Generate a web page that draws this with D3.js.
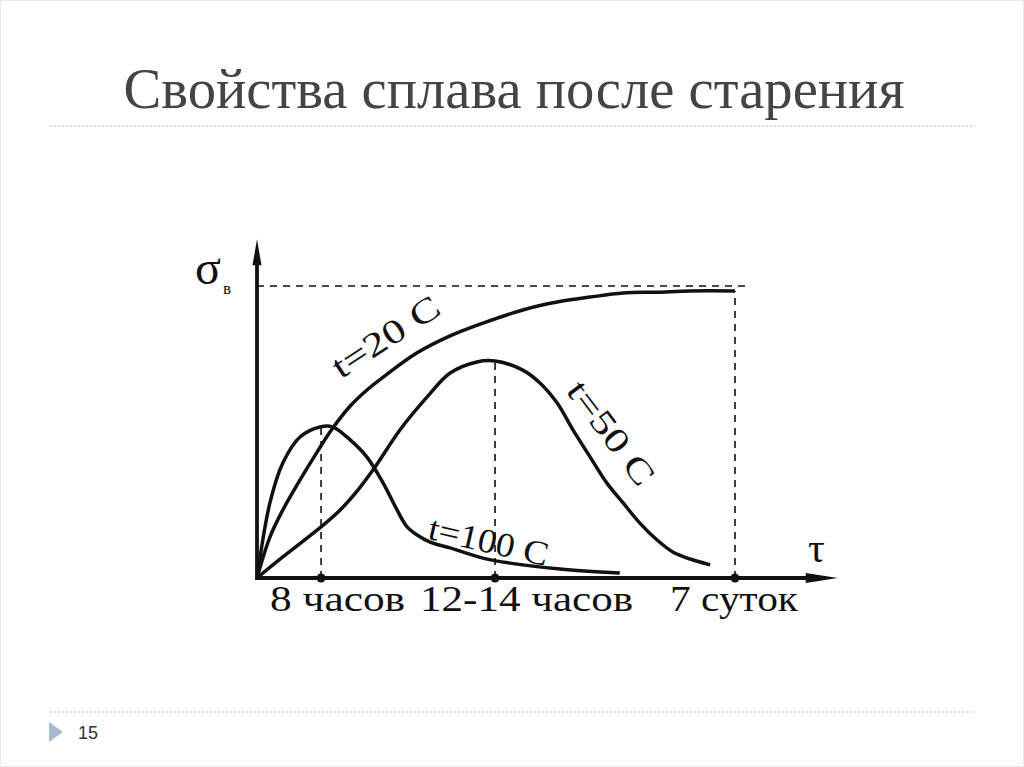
<!DOCTYPE html>
<html>
<head>
<meta charset="utf-8">
<script src="https://cdn.jsdelivr.net/npm/d3@7"></script>
<style>
  body { margin: 0; background: #fff; }
  svg { display: block; }
</style>
</head>
<body>
<script>
// Свойства сплава после старения
const width = 1024;
const height = 767;

// x in relative time units (7 суток = 100), y in relative strength (max = 100)
const t20x  = [0, 2.7, 5.4, 9.0, 12.6, 15.7, 19.5, 23.0, 26.4, 33.5, 40.4, 47.3, 55.6, 62.8, 69.7, 76.6, 83.7, 90.6, 100];
const t20y  = [0, 14.0, 23.3, 33.6, 43.2, 51.0, 58.9, 64.4, 68.8, 77.1, 82.9, 87.3, 91.8, 94.5, 96.2, 97.6, 97.9, 98.3, 98.3];

const t50x  = [0, 5.4, 13.4, 17.4, 21.1, 24.7, 29.9, 35.6, 40.4, 46.0, 49.8, 55.6, 59.2, 62.8, 66.1, 69.7, 73.2, 76.6, 80.1, 83.7, 87.0, 90.6, 94.8];
const t50y  = [0, 7.2, 17.5, 23.3, 30.1, 38.0, 50.7, 62.0, 70.2, 74.0, 74.3, 71.2, 66.8, 59.9, 50.7, 41.4, 32.5, 25.7, 18.8, 13.0, 8.9, 6.5, 4.5];

const t100x = [0, 2.7, 5.4, 9.0, 13.4, 15.9, 19.5, 23.0, 26.4, 29.3, 31.4, 33.5, 36.2, 40.4, 47.3, 52.9, 63.4, 75.9];
const t100y = [0, 25.7, 39.4, 48.3, 51.8, 51.7, 47.3, 41.4, 32.5, 23.3, 17.5, 14.7, 12.3, 10.3, 6.8, 5.1, 3.1, 1.7];

const curveNames = ['t=20 C', 't=50 C', 't=100 C'];

const tickValues = [13.4, 49.8, 100];
const tickLabels = ['8 часов', '12-14 часов', '7 суток'];
const tickPeaks  = [51.7, 74.3, 98.3];   // where each dashed guide stops
const sigmaMax = 100;

const serif = '"Liberation Serif", "Times New Roman", serif';

const svg = d3.select('body').append('svg')
  .attr('width', width)
  .attr('height', height)
  .attr('viewBox', [0, 0, width, height]);

// slide frame
svg.append('rect')
  .attr('x', 0.5).attr('y', 0.5)
  .attr('width', width - 1).attr('height', height - 1)
  .attr('fill', '#fff').attr('stroke', '#ececec');

// title
svg.append('text')
  .attr('x', 514).attr('y', 108)
  .attr('text-anchor', 'middle')
  .attr('font-family', serif)
  .attr('font-size', 56)
  .attr('fill', '#444446')
  .attr('textLength', 781)
  .attr('lengthAdjust', 'spacingAndGlyphs')
  .text('Свойства сплава после старения');

// dotted rules
[126, 712].forEach(yy => {
  svg.append('line')
    .attr('x1', 50).attr('x2', 975)
    .attr('y1', yy).attr('y2', yy)
    .attr('stroke', '#b9bec4')
    .attr('stroke-width', 1)
    .attr('stroke-dasharray', '2,2');
});

// footer
svg.append('path')
  .attr('d', 'M49,722 L63,732 L49,742 Z')
  .attr('fill', '#a9b9cc');
svg.append('text')
  .attr('x', 78).attr('y', 739)
  .attr('font-family', '"Liberation Sans", Arial, sans-serif')
  .attr('font-size', 18)
  .attr('fill', '#333')
  .text('15');

// chart
const x = d3.scaleLinear().domain([0, 100]).range([257, 735]);
const y = d3.scaleLinear().domain([0, 100]).range([578, 286]);
const xEnd = 121.5;
const yEnd = 116;

const g = svg.append('g');

// dashed guides
g.append('line')
  .attr('x1', x(0)).attr('x2', x(103))
  .attr('y1', y(sigmaMax)).attr('y2', y(sigmaMax))
  .attr('stroke', '#111').attr('stroke-width', 1.6)
  .attr('stroke-dasharray', '7,6');

g.selectAll('line.guide')
  .data(tickValues)
  .join('line')
  .attr('class', 'guide')
  .attr('x1', d => x(d)).attr('x2', d => x(d))
  .attr('y1', y(0)).attr('y2', (d, i) => y(tickPeaks[i]))
  .attr('stroke', '#111').attr('stroke-width', 1.6)
  .attr('stroke-dasharray', '7,6');

// curves
const line = d3.line()
  .x(d => x(d[0]))
  .y(d => y(d[1]))
  .curve(d3.curveCatmullRom.alpha(0.5));

const series = [
  d3.zip(t20x, t20y),
  d3.zip(t50x, t50y),
  d3.zip(t100x, t100y)
];

g.selectAll('path.curve')
  .data(series)
  .join('path')
  .attr('class', 'curve')
  .attr('d', line)
  .attr('fill', 'none')
  .attr('stroke', '#111')
  .attr('stroke-width', 3.5)
  .attr('stroke-linejoin', 'round');

// axes with arrows
g.append('line')
  .attr('x1', x(0)).attr('x2', x(xEnd) - 20)
  .attr('y1', y(0)).attr('y2', y(0))
  .attr('stroke', '#111').attr('stroke-width', 3.8);
g.append('path')
  .attr('d', `M${x(xEnd)},${y(0)} L${x(xEnd) - 32},${y(0) - 5} L${x(xEnd) - 32},${y(0) + 5} Z`)
  .attr('fill', '#111');

g.append('line')
  .attr('x1', x(0)).attr('x2', x(0))
  .attr('y1', y(0) + 2).attr('y2', y(yEnd) + 16)
  .attr('stroke', '#111').attr('stroke-width', 3.8);
g.append('path')
  .attr('d', `M${x(0)},${y(yEnd)} L${x(0) - 4.5},${y(yEnd) + 26} L${x(0) + 4.5},${y(yEnd) + 26} Z`)
  .attr('fill', '#111');

// tick dots
g.selectAll('circle.tick')
  .data(tickValues)
  .join('circle')
  .attr('class', 'tick')
  .attr('cx', d => x(d)).attr('cy', y(0))
  .attr('r', 4.5)
  .attr('fill', '#111');

// tick labels (left edge offset from each tick)
const labelDx = [-51, -75, -65];
const labelW  = [135, 213, 128];
g.selectAll('text.tlabel')
  .data(tickLabels)
  .join('text')
  .attr('class', 'tlabel')
  .attr('x', (d, i) => x(tickValues[i]) + labelDx[i])
  .attr('y', 611)
  .attr('font-family', serif)
  .attr('font-size', 36)
  .attr('fill', '#111')
  .attr('textLength', (d, i) => labelW[i])
  .attr('lengthAdjust', 'spacingAndGlyphs')
  .text(d => d);

// axis names
const sig = g.append('text')
  .attr('x', 195).attr('y', 284)
  .attr('font-family', serif)
  .attr('font-size', 48)
  .attr('fill', '#111');
sig.append('tspan').text('σ');
sig.append('tspan')
  .attr('font-size', 17)
  .attr('dx', 2).attr('dy', 10)
  .text('в');

g.append('text')
  .attr('x', 808).attr('y', 562)
  .attr('font-family', serif)
  .attr('font-size', 42)
  .attr('fill', '#111')
  .text('τ');

// curve labels
const labelPos = [[17.5, 68, -33], [64.5, 64, 53], [35.5, 13.5, 13]];
g.selectAll('text.clabel')
  .data(curveNames)
  .join('text')
  .attr('class', 'clabel')
  .attr('transform', (d, i) => `translate(${x(labelPos[i][0])},${y(labelPos[i][1])}) rotate(${labelPos[i][2]})`)
  .attr('font-family', serif)
  .attr('font-size', 34)
  .attr('fill', '#111')
  .attr('textLength', 122)
  .attr('lengthAdjust', 'spacingAndGlyphs')
  .text(d => d);
</script>
</body>
</html>
